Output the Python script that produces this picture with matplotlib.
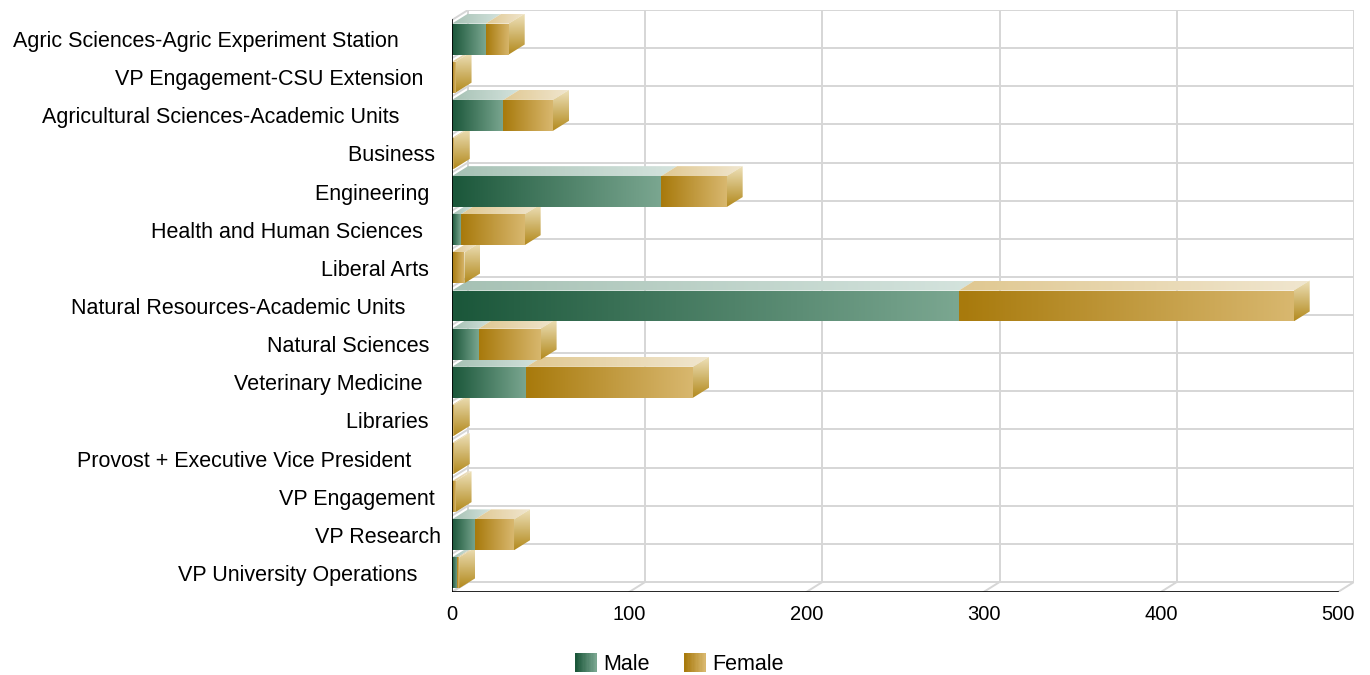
import numpy as np
import matplotlib
matplotlib.use('Agg')
import matplotlib.pyplot as plt
import matplotlib.colors as mcolors
from matplotlib.patches import Polygon, Rectangle
from matplotlib.legend_handler import HandlerBase

plt.rcParams['font.family'] = 'Liberation Sans'

# data (trailing spaces keep the original label alignment)
units = ['Agric Sciences-Agric Experiment Station       ',
         'VP Engagement-CSU Extension   ',
         'Agricultural Sciences-Academic Units       ',
         'Business ',
         'Engineering  ',
         'Health and Human Sciences   ',
         'Liberal Arts  ',
         'Natural Resources-Academic Units      ',
         'Natural Sciences  ',
         'Veterinary Medicine   ',
         'Libraries  ',
         'Provost + Executive Vice President     ',
         'VP Engagement ',
         'VP Research',
         'VP University Operations    ']
male = [19, 0, 29, 0, 118, 5, 0, 286, 15, 42, 0, 0, 0, 13, 3]
female = [13, 2, 28, 1, 37, 36, 7, 189, 35, 94, 1, 1, 2, 22, 1]
xticks = [0, 100, 200, 300, 400, 500]

# styling
GREEN_FRONT = ('#1b573a', '#7aa690')
GREEN_TOP = ('#a6c1b4', '#d4e3dd')
GOLD_FRONT = ('#a87a0c', '#d8b76e')
GOLD_TOP = ('#e0c891', '#f0e6cf')
GOLD_SIDE = ('#ede0b8', '#b38a1e')
GREEN_SIDE = ('#c9dcd3', '#3d7a5c')
GRID = '#d6d6d6'

W, H = 1370, 675
fig = plt.figure(figsize=(W / 100, H / 100), dpi=100)
ax = fig.add_axes([452 / W, 83 / H, 902 / W, 582 / H])

XMAX = 500
DX = 16 / (886 / XMAX)        # depth offset in data units (x)
DY = 10 / (572 / len(units))  # depth offset in rows (y)
BH = 0.81                     # bar front height in rows
n = len(units)
top_b, bot_b = -0.5, n - 0.5


def grad_cmap(c):
    return mcolors.LinearSegmentedColormap.from_list('g', list(c))


def face(verts, colors, vertical=False, z=3):
    verts = np.array(verts)
    poly = Polygon(verts, closed=True, fc='none', ec='none')
    ax.add_patch(poly)
    g = np.linspace(0, 1, 64)
    arr = g[:, None] if vertical else g[None, :]
    xs, ys = verts[:, 0], verts[:, 1]
    im = ax.imshow(arr, cmap=grad_cmap(colors), aspect='auto', origin='upper',
                   extent=(xs.min(), xs.max(), ys.max(), ys.min()),
                   interpolation='bilinear', zorder=z)
    im.set_clip_path(poly)


# back wall, left wall and floor
for v in xticks:
    ax.plot([v + DX, v + DX], [bot_b - DY, top_b - DY], color=GRID, lw=1.4, zorder=1)
    ax.plot([v, v + DX], [bot_b, bot_b - DY], color=GRID, lw=1.4, zorder=1)
for k in range(n + 1):
    b = top_b + k
    ax.plot([DX, XMAX + DX], [b - DY, b - DY], color=GRID, lw=1.4, zorder=1)
    ax.plot([0, DX], [b, b - DY], color=GRID, lw=1.4, zorder=1)
ax.plot([0, 0], [top_b, bot_b], color='black', lw=1.2, zorder=5)
ax.plot([0, XMAX], [bot_b, bot_b], color='black', lw=1.2, zorder=5)

# 3D stacked bars, lower rows first so upper rows sit in front
for i in range(n - 1, -1, -1):
    yt, yb = i - BH / 2, i + BH / 2
    segs = [(0, male[i], GREEN_FRONT, GREEN_TOP, GREEN_SIDE),
            (male[i], male[i] + female[i], GOLD_FRONT, GOLD_TOP, GOLD_SIDE)]
    segs = [s for s in segs if s[1] > s[0]]
    for x0, x1, cf, ct, cs in segs:
        face([(x0, yt), (x1, yt), (x1 + DX, yt - DY), (x0 + DX, yt - DY)], ct)
        face([(x0, yt), (x1, yt), (x1, yb), (x0, yb)], cf)
    x0, x1, cf, ct, cs = segs[-1]
    face([(x1, yt), (x1 + DX, yt - DY), (x1 + DX, yb - DY), (x1, yb)], cs,
         vertical=True)

ax.set_xlim(0, XMAX + DX)
ax.set_ylim(bot_b, top_b - DY)
for s in ax.spines.values():
    s.set_visible(False)
ax.set_xticks(xticks)
ax.set_xticklabels([str(v) for v in xticks])
ax.set_yticks(range(n))
ax.set_yticklabels(units)
ax.tick_params(axis='both', length=0, colors='black')
ax.tick_params(axis='y', pad=8, labelsize=15.5)
ax.tick_params(axis='x', pad=9, labelsize=14.5)


class GradHandler(HandlerBase):
    def __init__(self, colors):
        super().__init__()
        self.colors = colors

    def create_artists(self, legend, orig_handle, xdescent, ydescent,
                       width, height, fontsize, trans):
        cm = grad_cmap(self.colors)
        k = 16
        return [Rectangle((-xdescent + width * j / k, -ydescent), width / k + 0.2,
                          height, fc=cm(j / (k - 1)), ec='none', transform=trans)
                for j in range(k)]


hm = Rectangle((0, 0), 1, 1)
hf = Rectangle((0, 0), 1, 1)
fig.legend([hm, hf], ['Male', 'Female'], loc='lower center',
           bbox_to_anchor=(0.496, -0.028), ncol=2, frameon=False, fontsize=15.5,
           handlelength=1.0, handleheight=1.0, handletextpad=0.3,
           columnspacing=1.6,
           handler_map={hm: GradHandler(GREEN_FRONT), hf: GradHandler(GOLD_FRONT)})

fig.savefig('out.png', dpi=100)
